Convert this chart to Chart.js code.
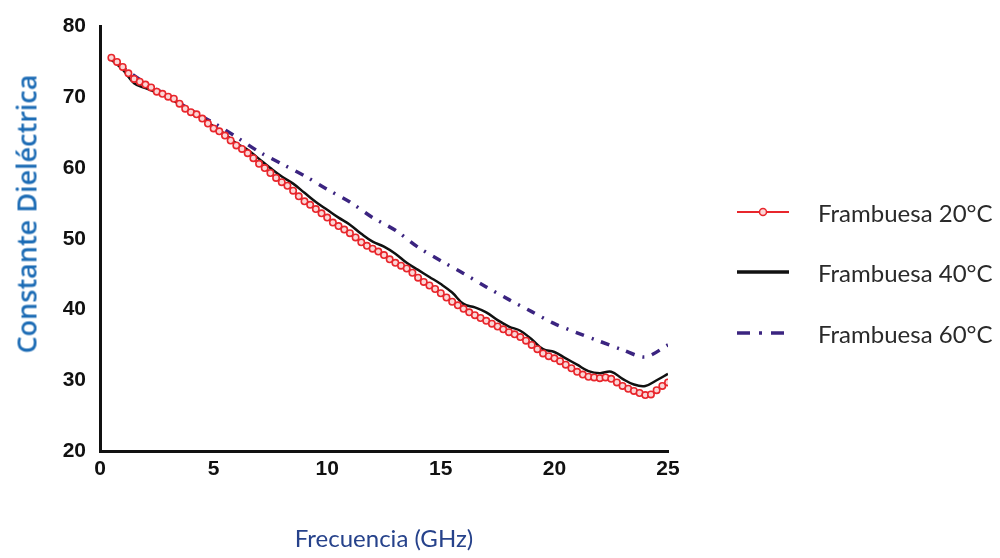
<!DOCTYPE html>
<html lang="es">
<head>
  <meta charset="UTF-8">
  <title>Constante Dieléctrica - Frambuesa</title>
  <script src="https://cdn.jsdelivr.net/npm/chart.js"></script>
  <style>
    body { margin: 0; background: #fff; }
    #wrap { position: relative; width: 1000px; height: 558px; }
    #legend { position: absolute; left: 737px; top: 0; font-family: Lato, sans-serif; font-size: 24px; color: #2a2a2a; }
    .item { position: absolute; left: 0; display: flex; align-items: center; white-space: nowrap; }
    .item svg { width: 52px; height: 14px; margin-right: 29px; }
    #ytitle { position: absolute; left: 26px; top: 214px; transform: translate(-50%, -50%) rotate(-90deg);
      white-space: nowrap; font-family: "Open Sans", sans-serif; font-weight: 600; font-size: 27px; color: #1d6cb5; line-height: 1; }
  </style>
</head>
<body>
  <div id="wrap">
    <canvas id="chart" width="1000" height="558"></canvas>
    <div id="ytitle">Constante Dieléctrica</div>
    <div id="legend"></div>
  </div>

  <script>
    // Frambuesa 20°C
    const freq20 = [0.5, 0.75, 1, 1.25, 1.5, 1.75, 2, 2.25, 2.5, 2.75, 3, 3.25, 3.5, 3.75, 4, 4.25, 4.5, 4.75, 5, 5.25,
      5.5, 5.75, 6, 6.25, 6.5, 6.75, 7, 7.25, 7.5, 7.75, 8, 8.25, 8.5, 8.75, 9, 9.25, 9.5, 9.75, 10, 10.25,
      10.5, 10.75, 11, 11.25, 11.5, 11.75, 12, 12.25, 12.5, 12.75, 13, 13.25, 13.5, 13.75, 14, 14.25, 14.5, 14.75, 15, 15.25,
      15.5, 15.75, 16, 16.25, 16.5, 16.75, 17, 17.25, 17.5, 17.75, 18, 18.25, 18.5, 18.75, 19, 19.25, 19.5, 19.75, 20, 20.25,
      20.5, 20.75, 21, 21.25, 21.5, 21.75, 22, 22.25, 22.5, 22.75, 23, 23.25, 23.5, 23.75, 24, 24.25, 24.5, 24.75, 25];
    const perm20 = [75.6, 75.0, 74.3, 73.4, 72.6, 72.2, 71.8, 71.4, 70.8, 70.5, 70.1, 69.8, 69.1, 68.4, 67.9, 67.6, 67.0, 66.3, 65.6, 65.2,
      64.6, 63.9, 63.2, 62.7, 62.1, 61.4, 60.6, 60.0, 59.3, 58.6, 58.0, 57.5, 56.8, 56.0, 55.3, 54.8, 54.2, 53.6, 53.0, 52.3,
      51.8, 51.3, 50.8, 50.2, 49.5, 49.0, 48.6, 48.2, 47.7, 47.1, 46.6, 46.2, 45.8, 45.2, 44.5, 43.9, 43.4, 42.9, 42.3, 41.7,
      41.1, 40.6, 40.1, 39.6, 39.2, 38.8, 38.4, 38.0, 37.6, 37.2, 36.8, 36.5, 36.1, 35.6, 35.0, 34.4, 33.8, 33.4, 33.1, 32.7,
      32.2, 31.7, 31.2, 30.8, 30.5, 30.4, 30.3, 30.4, 30.2, 29.7, 29.2, 28.8, 28.5, 28.2, 27.9, 28.0, 28.6, 29.2, 29.7];

    // Frambuesa 40°C
    const freq40 = [0.5, 1, 1.5, 2, 2.5, 3, 3.5, 4, 4.5, 5, 5.5, 6, 6.5, 7, 7.5, 8, 8.5, 9, 9.5, 10,
      10.5, 11, 11.5, 12, 12.5, 13, 13.5, 14, 14.5, 15, 15.5, 16, 16.5, 17, 17.5, 18, 18.5, 19, 19.5, 20,
      20.5, 21, 21.5, 22, 22.5, 23, 23.5, 24, 24.5, 25];
    const perm40 = [75.3, 73.9, 72.0, 71.3, 70.7, 70.0, 69.0, 68.0, 67.1, 65.9, 64.8, 63.5, 62.6, 61.3, 60.0, 58.8, 57.8, 56.5, 55.2, 54.1,
      53.0, 52.0, 50.7, 49.6, 48.9, 47.9, 46.6, 45.6, 44.6, 43.6, 42.4, 40.8, 40.3, 39.6, 38.5, 37.6, 37.0, 35.8, 34.4, 34.0,
      33.1, 32.2, 31.3, 31.0, 31.2, 30.2, 29.4, 29.2, 30.0, 30.9];

    // Frambuesa 60°C
    const freq60 = [0.5, 1, 2, 3, 4, 5, 6, 7, 8, 9, 10, 11, 12, 13, 14, 15, 16, 17, 18, 19, 20, 21, 22, 23, 24, 25];
    const perm60 = [75.5, 74.2, 72.0, 70.2, 68.2, 66.4, 64.4, 62.3, 60.6, 58.9, 57.0, 55.2, 53.0, 51.2, 48.8, 46.9, 45.1, 43.2, 41.4, 39.7,
      38.0, 36.7, 35.5, 34.3, 33.3, 35.0];

    const seriesLabels = ['Frambuesa 20°C', 'Frambuesa 40°C', 'Frambuesa 60°C'];
    const xTicks = [0, 5, 10, 15, 20, 25];
    const yTicks = [20, 30, 40, 50, 60, 70, 80];

    const toPoints = (xs, ys) => xs.map((x, i) => ({ x: x, y: ys[i] }));

    const tickFont = { family: '"Liberation Sans", Arial, sans-serif', size: 21, weight: 'bold' };

    new Chart(document.getElementById('chart'), {
      type: 'line',
      data: {
        datasets: [
          {
            label: seriesLabels[0],
            data: toPoints(freq20, perm20),
            borderColor: '#e8262c',
            borderWidth: 2.5,
            pointRadius: 3.2,
            pointBorderWidth: 1.6,
            pointBorderColor: '#e8262c',
            pointBackgroundColor: '#fbd6d6',
            tension: 0.3
          },
          {
            label: seriesLabels[1],
            data: toPoints(freq40, perm40),
            borderColor: '#111',
            borderWidth: 2.5,
            pointRadius: 0,
            tension: 0.4
          },
          {
            label: seriesLabels[2],
            data: toPoints(freq60, perm60),
            borderColor: '#3b2480',
            borderWidth: 3.5,
            borderDash: [9, 8, 2, 8],
            pointRadius: 0,
            tension: 0.3
          }
        ]
      },
      options: {
        responsive: false,
        animation: false,
        devicePixelRatio: 1,
        layout: { padding: { top: 22, right: 332, left: 0, bottom: 0 } },
        plugins: { legend: { display: false }, tooltip: { enabled: false } },
        scales: {
          x: {
            type: 'linear',
            min: 0,
            max: 25,
            afterBuildTicks: s => { s.ticks = xTicks.map(v => ({ value: v })); },
            afterFit: s => { s.height = 107; },
            grid: { display: false, drawTicks: false },
            border: { display: true, color: '#111', width: 3 },
            ticks: { color: '#111', font: tickFont, padding: 6 },
            title: {
              display: true,
              text: 'Frecuencia (GHz)',
              color: '#26428b',
              font: { family: 'Lato, sans-serif', size: 24 },
              padding: { top: 0, bottom: 4 }
            }
          },
          y: {
            min: 20,
            max: 80,
            afterBuildTicks: s => { s.ticks = yTicks.map(v => ({ value: v })); },
            afterFit: s => { s.width = 100; },
            grid: { display: false, drawTicks: false },
            border: { display: true, color: '#111', width: 3 },
            ticks: { color: '#111', font: tickFont, padding: 14 }
          }
        }
      }
    });

    // legend drawn as HTML next to the plot
    const samples = [
      '<svg viewBox="0 0 52 14"><line x1="0" y1="7" x2="52" y2="7" stroke="#e8262c" stroke-width="2"/><circle cx="26" cy="7" r="3.5" fill="#fbd6d6" stroke="#e8262c" stroke-width="1.5"/></svg>',
      '<svg viewBox="0 0 52 14"><line x1="0" y1="7" x2="52" y2="7" stroke="#111" stroke-width="3.5"/></svg>',
      '<svg viewBox="0 0 52 14"><line x1="0" y1="7" x2="52" y2="7" stroke="#3b2480" stroke-width="3.5" stroke-dasharray="13 9 3 9"/></svg>'
    ];
    const legendY = [212, 272, 333];
    const legend = document.getElementById('legend');
    seriesLabels.forEach((label, i) => {
      legend.insertAdjacentHTML('beforeend',
        `<div class="item" style="top:${legendY[i] - 15}px;height:30px">${samples[i]}<span>${label}</span></div>`);
    });
  </script>
</body>
</html>
